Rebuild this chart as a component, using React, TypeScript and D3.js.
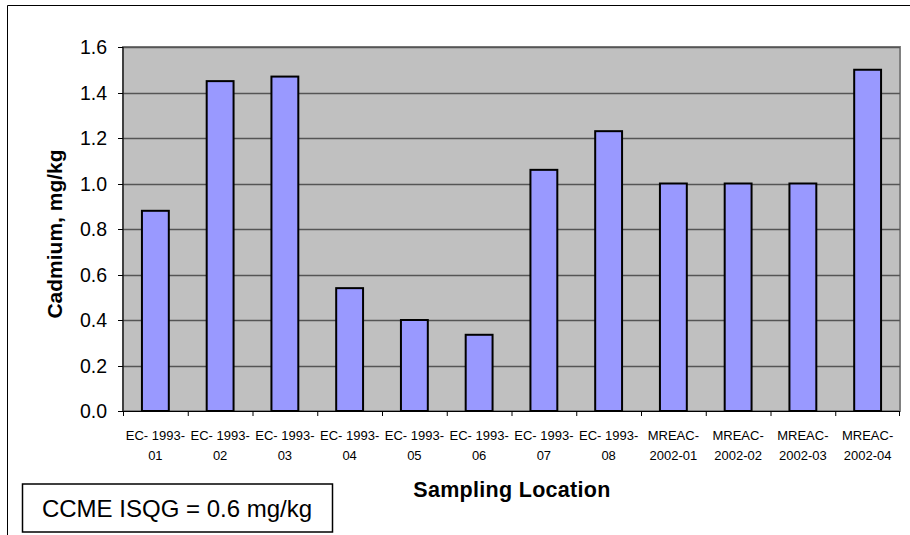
import React from "react";
import * as d3 from "d3";

const categories = [
  ["EC- 1993-", "01"],
  ["EC- 1993-", "02"],
  ["EC- 1993-", "03"],
  ["EC- 1993-", "04"],
  ["EC- 1993-", "05"],
  ["EC- 1993-", "06"],
  ["EC- 1993-", "07"],
  ["EC- 1993-", "08"],
  ["MREAC-", "2002-01"],
  ["MREAC-", "2002-02"],
  ["MREAC-", "2002-03"],
  ["MREAC-", "2002-04"],
];
const cadmium = [0.88, 1.45, 1.47, 0.54, 0.4, 0.335, 1.06, 1.23, 1.0, 1.0, 1.0, 1.5];
const yTicks = [0, 0.2, 0.4, 0.6, 0.8, 1.0, 1.2, 1.4, 1.6];
const yTitle = "Cadmium, mg/kg";
const xTitle = "Sampling Location";
const guideline = "CCME ISQG = 0.6 mg/kg";

const W = 910;
const H = 535;
const plot = { left: 123, top: 47, right: 900, bottom: 411 };
const font = "Arial, 'Liberation Sans', sans-serif";

export default function App() {
  const keys = categories.map((_, i) => String(i));
  const x = d3.scaleBand().domain(keys).range([plot.left, plot.right]).paddingInner(0).paddingOuter(0);
  const y = d3.scaleLinear().domain([0, 1.6]).range([plot.bottom, plot.top]);
  const barW = x.bandwidth() * 0.415;
  const pw = plot.right - plot.left;
  const ph = plot.bottom - plot.top;

  return (
    <div style={{ position: "absolute", left: 0, top: 0 }}>
      <svg width={W} height={H} style={{ display: "block", fontFamily: font }}>
        <rect x={0} y={0} width={W} height={H} fill="#fff" />
        {/* chart frame */}
        <line x1={7.5} y1={5.5} x2={W} y2={5.5} stroke="#000" strokeWidth={1} />
        <line x1={7.5} y1={5.5} x2={7.5} y2={H} stroke="#000" strokeWidth={1} />

        {/* plot area */}
        <rect x={plot.left} y={plot.top} width={pw} height={ph} fill="#C0C0C0" stroke="#808080" strokeWidth={2} />
        {yTicks.slice(1).map((t) => (
          <line key={t} x1={plot.left} x2={plot.right} y1={Math.round(y(t)) + 0.5} y2={Math.round(y(t)) + 0.5} stroke="#555" strokeWidth={1.3} />
        ))}

        {/* bars */}
        {cadmium.map((v, i) => {
          const cx = (x(String(i)) as number) + x.bandwidth() / 2;
          return (
            <rect
              key={i}
              x={cx - barW / 2}
              y={y(v)}
              width={barW}
              height={plot.bottom - y(v)}
              fill="#9999FF"
              stroke="#000"
              strokeWidth={2}
            />
          );
        })}

        {/* axes */}
        <line x1={plot.left} x2={plot.left} y1={plot.top} y2={plot.bottom} stroke="#000" strokeWidth={1} />
        <line x1={plot.left - 5} x2={plot.right} y1={plot.bottom + 0.5} y2={plot.bottom + 0.5} stroke="#000" strokeWidth={1} />
        {yTicks.map((t) => (
          <g key={t}>
            <line x1={plot.left - 5} x2={plot.left} y1={Math.round(y(t)) + 0.5} y2={Math.round(y(t)) + 0.5} stroke="#000" />
            <text x={107} y={y(t)} dy="0.36em" textAnchor="end" fontSize={19.5} fill="#000">
              {t.toFixed(1)}
            </text>
          </g>
        ))}
        {keys.map((k) => (
          <line key={k} x1={(x(k) as number) + 0.5} x2={(x(k) as number) + 0.5} y1={plot.bottom} y2={plot.bottom + 5} stroke="#000" />
        ))}
        <line x1={plot.right - 0.5} x2={plot.right - 0.5} y1={plot.bottom} y2={plot.bottom + 5} stroke="#000" />

        {categories.map((c, i) => {
          const cx = (x(String(i)) as number) + x.bandwidth() / 2;
          return (
            <text key={i} x={cx} textAnchor="middle" fontSize={13} fill="#000">
              <tspan x={cx} y={440}>{c[0]}</tspan>
              <tspan x={cx} y={460}>{c[1]}</tspan>
            </text>
          );
        })}

        {/* titles */}
        <text x={512} y={497} textAnchor="middle" fontSize={21.5} fontWeight="bold" fill="#000" letterSpacing={0.3}>
          {xTitle}
        </text>
        <text
          transform={`translate(62,234) rotate(-90)`}
          textAnchor="middle"
          fontSize={21}
          fontWeight="bold"
          fill="#000"
        >
          {yTitle}
        </text>

        {/* guideline note */}
        <rect x={22.5} y={484} width={310} height={48} fill="#fff" stroke="#000" strokeWidth={1.5} />
        <text x={177} y={517} textAnchor="middle" fontSize={24} fill="#000">
          {guideline}
        </text>
      </svg>
    </div>
  );
}
